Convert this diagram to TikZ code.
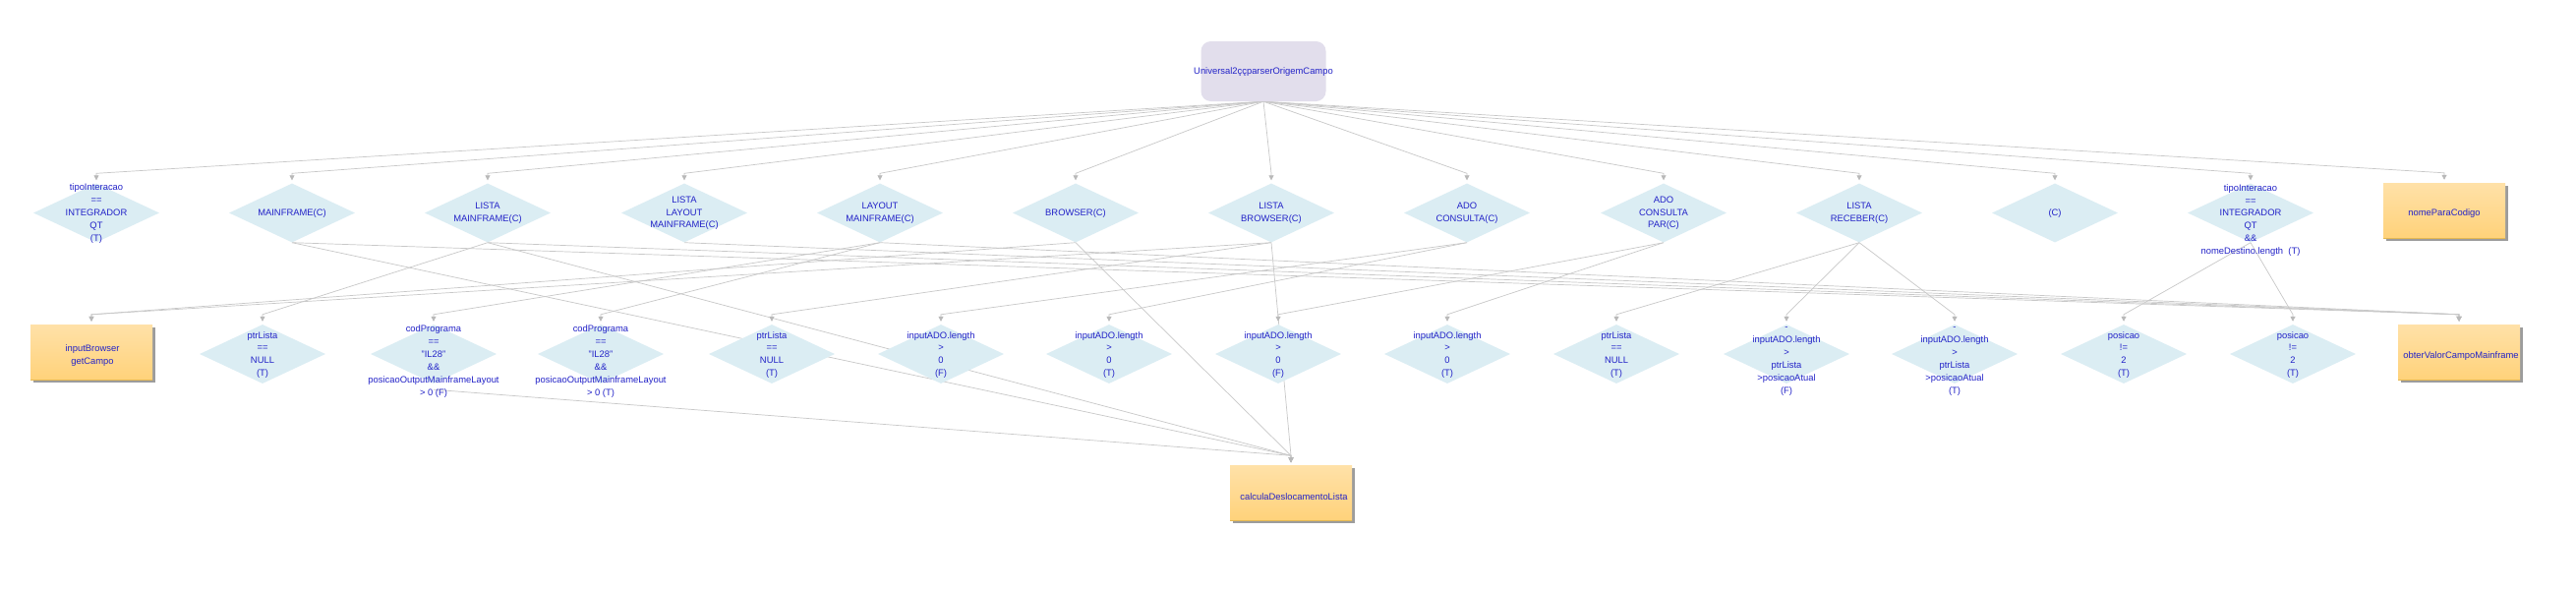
\documentclass[tikz,border=0pt]{standalone}
\usepackage{fontspec}
\setmainfont{Liberation Sans}
\usetikzlibrary{shapes.geometric,arrows.meta,shadows}
\definecolor{txt}{RGB}{35,35,200}
\definecolor{dfill}{RGB}{219,237,243}
\definecolor{edg}{RGB}{200,200,200}
\definecolor{tipc}{RGB}{185,185,185}
\definecolor{tfill}{RGB}{226,222,236}
\definecolor{btop}{RGB}{255,225,168}
\definecolor{bbot}{RGB}{255,210,122}
\definecolor{gold}{RGB}{228,184,82}
\pgfdeclarelayer{back}
\pgfdeclarelayer{bg}
\pgfsetlayers{back,bg,main}
\newcommand\myedge[2]{\draw[edge] (#1) -- ([yshift=10pt]#2.north) -- ([yshift=3pt]#2.north);}
\begin{document}
\begin{tikzpicture}[x=1pt,y=-1pt,
 dia/.style={diamond,fill=dfill,minimum width=128pt,minimum height=60pt,inner sep=0pt},
 fbox/.style={rectangle,top color=btop,bottom color=bbot,minimum width=124pt,minimum height=56pt,inner sep=0pt,
   drop shadow={shadow xshift=2.5pt,shadow yshift=-2.5pt,fill=black!55,opacity=0.7}},
 root/.style={rectangle,rounded corners=10pt,fill=tfill,minimum width=127pt,minimum height=61pt,inner sep=0pt},
 lab/.style={text=txt,font=\fontsize{9.4}{12.9}\selectfont,align=center,inner sep=0pt},
 edge/.style={draw=edg,line width=0.7pt,-{Triangle[width=5pt,length=5pt,color=tipc]}},
 bline/.style={draw=gold,line width=1pt}
]
\useasboundingbox (0,0) rectangle (2620,600);
\begin{pgfonlayer}{back}
\fill[white] (0,0) rectangle (2620,600);
\end{pgfonlayer}

% root
\node[root] (top) at (1285,72.5) {};
\node[lab] (topl) at (1285,73.5) {Universal2ççparserOrigemCampo};

% top row
\node[dia] (a1) at (98,216.5) {};
\node[lab] (a1l) at (98,217) {tipoInteracao\\==\\INTEGRADOR\\QT\\(T)};
\node[dia] (a2) at (297,216.5) {};
\node[lab] (a2l) at (297,216.7) {MAINFRAME(C)};
\node[dia] (a3) at (496,216.5) {};
\node[lab] (a3l) at (496,216.7) {LISTA\\MAINFRAME(C)};
\node[dia] (a4) at (696,216.5) {};
\node[lab] (a4l) at (696,216.7) {LISTA\\LAYOUT\\MAINFRAME(C)};
\node[dia] (a5) at (895,216.5) {};
\node[lab] (a5l) at (895,216.7) {LAYOUT\\MAINFRAME(C)};
\node[dia] (a6) at (1094,216.5) {};
\node[lab] (a6l) at (1094,216.7) {BROWSER(C)};
\node[dia] (a7) at (1293,216.5) {};
\node[lab] (a7l) at (1293,216.7) {LISTA\\BROWSER(C)};
\node[dia] (a8) at (1492,216.5) {};
\node[lab] (a8l) at (1492,216.7) {ADO\\CONSULTA(C)};
\node[dia] (a9) at (1692,216.5) {};
\node[lab] (a9l) at (1692,216.7) {ADO\\CONSULTA\\PAR(C)};
\node[dia] (a10) at (1891,216.5) {};
\node[lab] (a10l) at (1891,216.7) {LISTA\\RECEBER(C)};
\node[dia] (a11) at (2090,216.5) {};
\node[lab] (a11l) at (2090,216.7) {(C)};
\node[dia] (a12) at (2289,216.5) {};
\node[lab] (a12l) at (2289,224) {tipoInteracao\\==\\INTEGRADOR\\QT\\\&\&\\nomeDestino.length\ \ (T)};
\node[fbox] (a13) at (2486,214) {};
\draw[bline] (a13.south west) -- (a13.south east);
\node[lab] (a13l) at (2486,217) {nomeParaCodigo};

% second row
\node[fbox] (b0) at (93,358) {};
\draw[bline] (b0.south west) -- (b0.south east);
\node[lab] (b0l) at (94,361.7) {inputBrowser\\getCampo};
\node[dia] (b1) at (267,360) {};
\node[lab] (b1l) at (267,361) {ptrLista\\==\\NULL\\(T)};
\node[dia] (b2) at (441,360) {};
\node[lab] (b2l) at (441,367.5) {codPrograma\\==\\"IL28"\\\&\&\\posicaoOutputMainframeLayout\\> 0 (F)};
\node[dia] (b3) at (611,360) {};
\node[lab] (b3l) at (611,367.5) {codPrograma\\==\\"IL28"\\\&\&\\posicaoOutputMainframeLayout\\> 0 (T)};
\node[dia] (b4) at (785,360) {};
\node[lab] (b4l) at (785,361) {ptrLista\\==\\NULL\\(T)};
\node[dia] (b5) at (957,360) {};
\node[lab] (b5l) at (957,361) {inputADO.length\\>\\0\\(F)};
\node[dia] (b6) at (1128,360) {};
\node[lab] (b6l) at (1128,361) {inputADO.length\\>\\0\\(T)};
\node[dia] (b7) at (1300,360) {};
\node[lab] (b7l) at (1300,361) {inputADO.length\\>\\0\\(F)};
\node[dia] (b8) at (1472,360) {};
\node[lab] (b8l) at (1472,361) {inputADO.length\\>\\0\\(T)};
\node[dia] (b9) at (1644,360) {};
\node[lab] (b9l) at (1644,361) {ptrLista\\==\\NULL\\(T)};
\node[dia] (b10) at (1817,360) {};
\node[lab] (b10l) at (1817,367.5) {-\\inputADO.length\\>\\ptrLista\\>posicaoAtual\\(F)};
\node[dia] (b11) at (1988,360) {};
\node[lab] (b11l) at (1988,367.5) {-\\inputADO.length\\>\\ptrLista\\>posicaoAtual\\(T)};
\node[dia] (b12) at (2160,360) {};
\node[lab] (b12l) at (2160,361) {posicao\\!=\\2\\(T)};
\node[dia] (b13) at (2332,360) {};
\node[lab] (b13l) at (2332,361) {posicao\\!=\\2\\(T)};
\node[fbox] (b14) at (2501,358) {};
\draw[bline] (b14.south west) -- (b14.south east);
\node[lab] (b14l) at (2503,361.7) {obterValorCampoMainframe};

% bottom
\node[fbox] (c) at (1313,501.5) {};
\draw[bline] (c.south west) -- (c.south east);
\node[lab] (cl) at (1316,505) {calculaDeslocamentoLista};

\coordinate (b2out) at ([yshift=-6pt]b2.south);

\begin{pgfonlayer}{bg}
\foreach \t in {a1,a2,a3,a4,a5,a6,a7,a8,a9,a10,a11,a12,a13}{\myedge{top.south}{\t}}
\myedge{a2.south}{b14}
\myedge{a2.south}{c}
\myedge{a3.south}{b1}
\myedge{a3.south}{b14}
\myedge{a3.south}{c}
\myedge{a4.south}{b14}
\myedge{a5.south}{b2}
\myedge{a5.south}{b3}
\myedge{a5.south}{b14}
\myedge{a6.south}{b0}
\myedge{a6.south}{c}
\myedge{a7.south}{b0}
\myedge{a7.south}{b4}
\myedge{a7.south}{c}
\myedge{a8.south}{b5}
\myedge{a8.south}{b6}
\myedge{a9.south}{b7}
\myedge{a9.south}{b8}
\myedge{a10.south}{b9}
\myedge{a10.south}{b10}
\myedge{a10.south}{b11}
\myedge{a12.south}{b12}
\myedge{a12.south}{b13}
\myedge{b2out}{c}
\end{pgfonlayer}
\end{tikzpicture}
\end{document}
